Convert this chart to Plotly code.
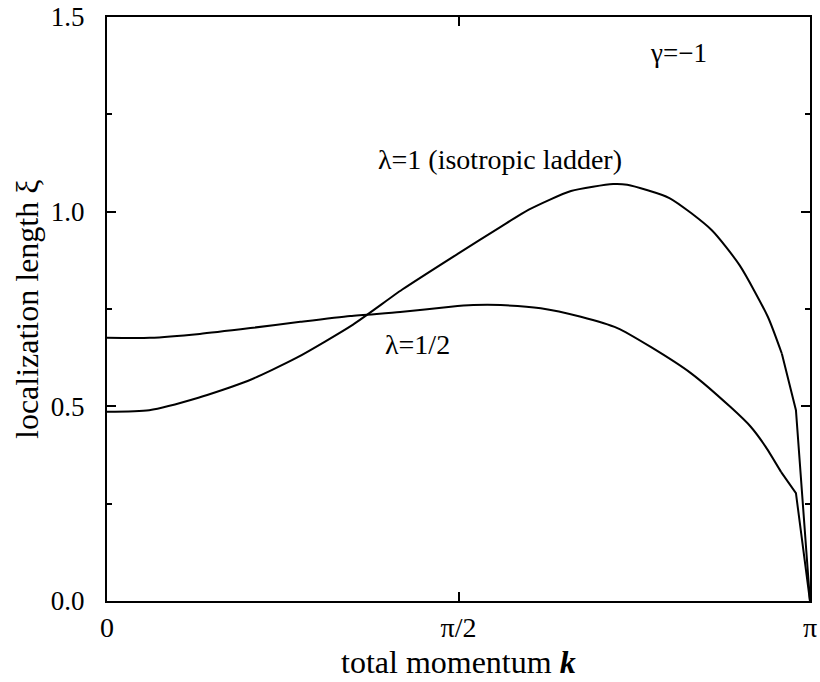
import math
import plotly.graph_objects as go

# k values given in units of pi
k1_over_pi = [0, 0.06, 0.13, 0.2, 0.27, 0.35, 0.42, 0.5, 0.56, 0.6, 0.66, 0.72, 0.74,
              0.8, 0.86, 0.9, 0.94, 0.96, 0.98, 1.0]
xi_lambda1 = [0.486, 0.49, 0.522, 0.565, 0.625, 0.71, 0.80, 0.893, 0.961, 1.005, 1.053,
              1.071, 1.069, 1.035, 0.953, 0.862, 0.73, 0.635, 0.49, 0.0]

k2_over_pi = [0, 0.061, 0.132, 0.204, 0.275, 0.346, 0.417, 0.489, 0.521, 0.56, 0.617,
              0.674, 0.726, 0.774, 0.83, 0.887, 0.916, 0.937, 0.959, 0.98, 1.0]
xi_lambda_half = [0.676, 0.676, 0.686, 0.701, 0.717, 0.732, 0.742, 0.756, 0.76, 0.76,
                  0.752, 0.73, 0.701, 0.652, 0.586, 0.498, 0.447, 0.396, 0.331, 0.277, 0.0]

x_tick_vals = [0, math.pi / 2, math.pi]
x_tick_text = ["0", "π/2", "π"]
y_tick_vals = [0.0, 0.5, 1.0, 1.5]
y_tick_text = ["0.0", "0.5", "1.0", "1.5"]

FONT = "Liberation Serif, Times New Roman, serif"
N_LINEAR_TAIL = 3  # the last samples near k=pi are joined by straight segments

fig = go.Figure()
for kk, xi in [(k1_over_pi, xi_lambda1), (k2_over_pi, xi_lambda_half)]:
    xs = [v * math.pi for v in kk]
    cut = len(xs) - N_LINEAR_TAIL + 1
    fig.add_trace(go.Scatter(x=xs[:cut], y=xi[:cut], mode="lines",
                             line=dict(color="black", width=2, shape="spline", smoothing=0.6),
                             showlegend=False))
    fig.add_trace(go.Scatter(x=xs[cut - 1:], y=xi[cut - 1:], mode="lines",
                             line=dict(color="black", width=2), showlegend=False))

fig.update_layout(
    width=820, height=682,
    margin=dict(l=107, r=10, t=17, b=81),
    plot_bgcolor="white", paper_bgcolor="white",
    font=dict(family=FONT, size=26, color="black"),
    xaxis=dict(range=[0, math.pi], tickvals=x_tick_vals, ticktext=x_tick_text,
               ticks="inside", ticklen=9, tickwidth=2, tickcolor="black",
               showline=True, linecolor="black", linewidth=2, mirror="allticks",
               showgrid=False, zeroline=False, automargin=False,
               tickfont=dict(family=FONT, size=28)),
    yaxis=dict(range=[0, 1.5], tickvals=y_tick_vals, ticktext=y_tick_text,
               ticks="inside", ticklen=9, tickwidth=2, tickcolor="black",
               showline=True, linecolor="black", linewidth=2, mirror="allticks",
               showgrid=False, zeroline=False, automargin=False,
               tickfont=dict(family=FONT, size=27), ticklabelstandoff=15,
               minor=dict(dtick=0.25, ticks="inside", ticklen=5, tickwidth=2, tickcolor="black",
                          showgrid=False)),
)

# axis titles
fig.add_annotation(x=0.5, xref="x domain", y=0, yref="y domain", yshift=-61,
                   text="total momentum <b><i>k</i></b>", showarrow=False,
                   xanchor="center", yanchor="middle", font=dict(family=FONT, size=32))
fig.add_annotation(x=0, xref="x domain", y=0.5, yref="y domain", xshift=-80,
                   text="localization length ξ", textangle=-90, showarrow=False,
                   xanchor="center", yanchor="middle", font=dict(family=FONT, size=32))

fig.add_annotation(x=0.769 * math.pi, y=1.408, xref="x", yref="y", text="γ=−1",
                   showarrow=False, xanchor="left", yanchor="middle", font=dict(family=FONT, size=27))
fig.add_annotation(x=0.382 * math.pi, y=1.135, xref="x", yref="y", text="λ=1 (isotropic ladder)",
                   showarrow=False, xanchor="left", yanchor="middle", font=dict(family=FONT, size=28))
fig.add_annotation(x=0.393 * math.pi, y=0.658, xref="x", yref="y", text="λ=1/2",
                   showarrow=False, xanchor="left", yanchor="middle", font=dict(family=FONT, size=28))

# remove the page's default 8px body margin so the figure fills the window exactly
fig.write_html("out.html", config={"displayModeBar": False},
               post_script="document.body.style.margin='0';document.body.style.overflow='hidden';")
